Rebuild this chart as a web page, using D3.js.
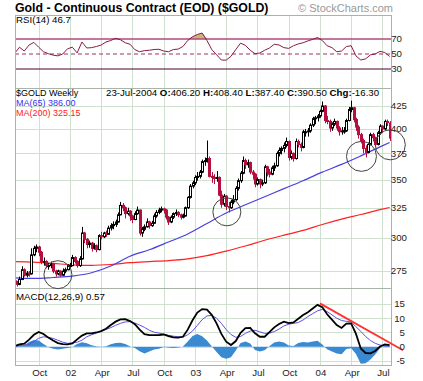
<!DOCTYPE html>
<html>
<head>
<meta charset="utf-8">
<script src="https://cdn.jsdelivr.net/npm/d3@7"></script>
<style>
body { margin: 0; background: #fff; }
text { font-family: Arial, "Liberation Sans", sans-serif; }
</style>
</head>
<body>
<svg id="chart" width="423" height="381"></svg>
<script>
// weekly bars from 27-Jul-2001 to 23-Jul-2004: [open, high, low, close]
const ohlc = [
    // 2001
    [268,269,264.5,266.5],[266.5,268,264,265.5],[265.5,271,265,269],[269,278.5,268.5,276],[276,277,271,272],
    [272,275,270.5,273.5],[273.5,275,271,273],[273,292,272.5,287],[287,294,286,292],[292,295,289,293],
    [293,294,286,289],[289,290,280,282],[282,285,279,282],[282,283,277,279],[279,281,276,279],
    [279,282,277,280],[280,281,273.5,275],[275,276,271,273],[273,276,272,275],[275,275.5,271,272],
    [272,277,271.5,275],[275,277.5,273.5,276],[276,280,275.5,279],
    // 2002
    [279,281,277.5,279],[279,287,278.5,285],[285,286,280.5,282],[282,283,277.5,279],[279,286,278,284],
    [284,309,283.5,304],[304,305,296,299],[299,300,292,295],[295,298,292.5,296],[296,297,289.5,292],
    [292,296,291,294],[294,295,289,291],[291,303,290.5,302],[302,305,299,301],[301,305,300,304],
    [304,306,301,303],[303,310,302.5,308],[308,312,306,310],[310,313.5,307,311],[311,315,309,313],
    [313,321,312.5,319],[319,330,318.5,327],[327,329,322,325],[325,326,316,320],[320,325,318.5,322],
    [322,323,314,318],[318,319,312,315],[315,322,314.5,320],[320,326,319,323],[323,323.5,302,304],
    [304,309,301,307],[307,311,305.5,309],[309,316,308.5,313],[313,314,307.5,310],[310,314,309,312],
    [312,320,311.5,318],[318,323,316.5,321],[321,325,319.5,323],[323,326,321,324],[324,325,320,323],
    [323,324,315,317],[317,318,310.5,313],[313,318.5,312,317],[317,321,315.5,320],[320,323.5,318,321],
    [321,322,317,319],[319,320,315,317],[317,320,316,318],[318,326,317.5,325],[325,335,324,334],
    [334,346,333,344],[344,349,342,347],
    // 2003
    [347,354,345,352],[352,357,349,353],[353,359,351,357],[357,369,356,367],[367,371,363,368],
    [368,388,366,370],[370,372,352,353],[353,357,347,352],[352,355,346,351],[351,358,348,352],
    [352,353,335,336],[336,340,325,328],[328,337,326,335],[335,336,323,326],[326,330,321,325],
    [325,332,324,330],[330,336,328,332],[332,344,331,342],[342,351,340,349],[349,358,347,356],
    [356,372,355,368],[368,370,360,364],[364,369,361,366],[366,367,355,357],[357,359,350,355],
    [355,356,343,346],[346,352,344.5,350],[350,351,342,346],[346,350,344,347],[347,364,346,362],
    [362,363,353,357],[357,360,352,355],[355,363,354,361],[361,366,358,363],[363,377,362,375],
    [375,381,372,378],[378,382,374,380],[380,386,376,383],[383,391,381,387],[387,388,368,371],
    [371,378,369,375],[375,376,367,370],[370,390,369,387],[387,389,381,384],[384,386,377,381],
    [381,399,380,397],[397,400,392,397],[397,401,392,398],[398,406,396,404],[404,413,402,411],
    [411,414,405,412],[412,416,408,414],
    // 2004
    [414,421,412,419],[419,430,418,425],[425,426,406,409],[409,414,405,408],[408,410,397,401],
    [401,407,398,405],[405,411,403,408],[408,409,398,401],[401,403,393,397],[397,402,394,398],
    [398,402,395,398],[398,411,397,409],[409,424,408,421],[421,431,418,423],[423,424,407,410],
    [410,412,398,402],[402,404,390,394],[394,396,385,388],[388,390,375,380],[380,383,371,376],
    [376,386,375,384],[384,396,383,394],[394,396,387,391],[391,392,382,384],[384,398,383,396],
    [396,405,394,403],[403,404,396,400],[400,410,399,408],[408,410,403,406.8],[406.2,408.4,387.4,390.5]
]

// indicators read every second week
const rsi14 = [51,59,54,62,65.5,59,53,50.5,48.5,47.5, 50,57,59,51.5,66,58,58.5,60,62,66,
    68,71,69,65,63,55.8,53,54.5,55,56, 56.3,54,53,56,56.5,60,68,73,76,78,
    68,56,49,42,41.8,47,56,64.5,61.5,55, 50.4,51.3,55,58,63,62,58.5,57.5,61,63.5,
    65,67.5,69.5,72,68,61,58.5,53,54,60, 61,47.5,42,43.5,48.8,50,53.5,52,46.7]
const macdLine = [0.2,0.8,1.1,2.5,4.2,5.2,4.5,3.2,2.2,1.3, 0.9,0.8,1.2,2.6,3.9,4.7,4.7,5.0,5.5,6.3,
    7.6,8.8,9.6,9.7,9.0,7.9,6,4.4,4.1,4.1, 4.1,4.3,3.7,3.3,3.2,3.5,6,9.3,12,13.2,
    13.0,11.2,8.2,4.5,1.8,0.6,2.0,4.9,6.5,6.6, 4.7,3.5,3.5,5.1,6.8,8.0,8.8,8.3,8.5,9.8,
    11.1,12.1,13.4,14.7,13.9,11.4,9.5,7.6,6.6,8.1, 8.2,4.5,-0.6,-2.2,-2.3,-1.5,0.1,0.8,0.57]
const macdSignal = [0.2,0.4,0.6,0.8,1.8,3.0,3.5,3.3,2.9,2.3, 1.6,1.2,1.3,1.6,2.3,3.5,4.2,4.8,5.4,6.1,
    6.7,7.5,8.2,8.7,8.8,8.3,7.6,6.8,5.8,5.1, 4.8,4.4,4.0,3.7,3.5,3.4,4.2,5.5,7.5,9.5,
    10.8,11.0,10.0,8.2,6.0,4.3,3.3,3.6,4.7,5.5, 5.8,5.2,4.7,4.8,5.3,6.2,7.3,7.9,8.2,8.5,
    9.4,10.6,11.6,12.6,13.1,12.3,11.2,10.0,9.2,8.9, 8.7,7.0,5.4,3.6,2.2,1.2,0.6,0.3,0.2]

// moving averages read every eighth week, plus the last week
const ma65 = [270.1,269.7,270.4,271.4,273.8,278.7,286,290.9,296.9,303.2,311.8,320.5,327.5,334.5,341.8,349,357,364.3,372.6,381.5,386]
const ma200 = [281.9,281.5,280.6,279.6,279.2,279.8,281.2,282,282.7,284,286.4,289.9,293.8,298.3,302.3,306.1,310.9,315.3,319.2,323.3,325.15]

const priceTicks = [275, 300, 325, 350, 375, 400, 425]
const rsiTicks = [30, 50, 70]
const macdTicks = [-5, 0, 5, 10, 15]
const quarterLabels = ["Oct","02","Apr","Jul","Oct","03","Apr","Jul","Oct","04","Apr","Jul"]

// annotations drawn on the chart: circles [date, price, radius] and the MACD trendline
const circles = [[new Date(2001,10,30), 272.4, 14], [new Date(2003,3,6), 321.5, 14],
                 [new Date(2004,4,2), 372.1, 15], [new Date(2004,6,25), 383.6, 15]]
const trendline = [[new Date(2004,0,2), 15.2], [new Date(2004,7,31), -1.2]]

const left = 15, right = 391
const rsiBox = [15, 88], priceBox = [88, 288], macdBox = [288, 365]
const gridColor = "#cfe0cf"
const font = "9.7px"

const svg = d3.select("#chart")

// build bar objects
const dates = d3.timeFriday.range(new Date(2001,6,27), new Date(2004,6,24))
const bars = dates.map((d, i) => ({
    date: d, o: ohlc[i][0], h: ohlc[i][1], l: ohlc[i][2], c: ohlc[i][3],
    prev: i ? ohlc[i-1][3] : ohlc[i][0]
}))
const ind = rsi14.map((v, i) => ({date: dates[i*2], rsi: v, macd: macdLine[i], signal: macdSignal[i]}))
const maIdx = d3.range(0, 153, 8).concat([156])
const maPts = maIdx.map((k, i) => ({date: dates[k], ma65: ma65[i], ma200: ma200[i]}))

// scales
const x = d3.scaleTime().domain([new Date(2001,6,28), new Date(2004,6,27)]).range([left, right])
const yRsi = d3.scaleLinear().domain([0, 100]).range([91.5, 16.5])
const yPrice = d3.scaleLog().domain([263, 445.6]).range([priceBox[1], priceBox[0]])
const yMacd = d3.scaleLinear().domain([-6.4, 20.6]).range([macdBox[1], macdBox[0]])

// quarter gridlines at the first bar of Jan/Apr/Jul/Oct
const quarters = bars.filter((b, i) => i > 0 && b.date.getMonth() % 3 === 0 && b.date.getMonth() !== bars[i-1].date.getMonth())

// panel clips and vertical grid
const defs = svg.append("defs")
;[["rsi", rsiBox], ["price", priceBox], ["macd", macdBox]].forEach(([name, box]) => {
    defs.append("clipPath").attr("id", "clip-" + name)
        .append("rect").attr("x", left).attr("y", box[0]).attr("width", right - left).attr("height", box[1] - box[0])
    svg.append("g").attr("class", "vgrid")
        .selectAll("line").data(quarters).join("line")
        .attr("x1", d => Math.round(x(d.date)) + 0.5).attr("x2", d => Math.round(x(d.date)) + 0.5)
        .attr("y1", box[0]).attr("y2", box[1])
        .attr("stroke", gridColor)
})

// ---- RSI panel ----
const gR = svg.append("g").attr("clip-path", "url(#clip-rsi)")
gR.append("path").datum(ind)
    .attr("fill", "#c8b67e")
    .attr("d", d3.area().x(d => x(d.date)).y0(yRsi(70)).y1(d => yRsi(Math.max(d.rsi, 70))))
gR.append("line").attr("x1", left).attr("x2", right).attr("y1", yRsi(70)).attr("y2", yRsi(70))
    .attr("stroke", "#b3477a").attr("stroke-width", 1.5)
gR.append("line").attr("x1", left).attr("x2", right).attr("y1", yRsi(50)).attr("y2", yRsi(50))
    .attr("stroke", "#993366").attr("stroke-dasharray", "4,3")
gR.append("line").attr("x1", left).attr("x2", right).attr("y1", yRsi(30)).attr("y2", yRsi(30))
    .attr("stroke", "#4d0033").attr("stroke-width", 1.2)
gR.append("path").datum(ind)
    .attr("fill", "none").attr("stroke", "#8b1a48").attr("stroke-width", 1)
    .attr("d", d3.line().x(d => x(d.date)).y(d => yRsi(d.rsi)))

// ---- price panel ----
svg.append("g").selectAll("line").data(priceTicks).join("line")
    .attr("x1", left).attr("x2", right)
    .attr("y1", d => Math.round(yPrice(d)) + 0.5).attr("y2", d => Math.round(yPrice(d)) + 0.5)
    .attr("stroke", gridColor)

const gP = svg.append("g").attr("clip-path", "url(#clip-price)")
gP.append("path").datum(maPts)
    .attr("fill", "none").attr("stroke", "#ff2222").attr("stroke-width", 1.2)
    .attr("d", d3.line().x(d => x(d.date)).y(d => yPrice(d.ma200)).curve(d3.curveMonotoneX))
gP.append("path").datum(maPts)
    .attr("fill", "none").attr("stroke", "#4a3fe0").attr("stroke-width", 1.2)
    .attr("d", d3.line().x(d => x(d.date)).y(d => yPrice(d.ma65)).curve(d3.curveMonotoneX))

const candle = gP.append("g").selectAll("g").data(bars).join("g")
const col = d => d.c >= d.prev ? "#000" : "#b3103f"
candle.append("line")
    .attr("x1", d => Math.round(x(d.date)) + 0.5).attr("x2", d => Math.round(x(d.date)) + 0.5)
    .attr("y1", d => yPrice(d.h)).attr("y2", d => yPrice(d.l))
    .attr("stroke", col)
candle.append("rect")
    .attr("x", d => Math.round(x(d.date)) - 0.5).attr("width", 2)
    .attr("y", d => yPrice(Math.max(d.o, d.c))).attr("height", d => Math.max(1, yPrice(Math.min(d.o, d.c)) - yPrice(Math.max(d.o, d.c))))
    .attr("fill", d => d.c > d.o ? "#fff" : col(d))
    .attr("stroke", col).attr("stroke-width", 1)

// ---- MACD panel ----
svg.append("g").selectAll("line").data(macdTicks).join("line")
    .attr("x1", left).attr("x2", right)
    .attr("y1", d => Math.round(yMacd(d)) + 0.5).attr("y2", d => Math.round(yMacd(d)) + 0.5)
    .attr("stroke", gridColor)
const gM = svg.append("g").attr("clip-path", "url(#clip-macd)")
gM.append("path").datum(ind)
    .attr("fill", "#3a8ad2")
    .attr("d", d3.area().x(d => x(d.date)).y0(yMacd(0)).y1(d => yMacd(d.macd - d.signal)))
gM.append("path").datum(ind)
    .attr("fill", "none").attr("stroke", "#6050e0").attr("stroke-width", 1)
    .attr("d", d3.line().x(d => x(d.date)).y(d => yMacd(d.signal)))
gM.append("path").datum(ind)
    .attr("fill", "none").attr("stroke", "#000").attr("stroke-width", 1.8)
    .attr("d", d3.line().x(d => x(d.date)).y(d => yMacd(d.macd)))

// panel frames
;[rsiBox, priceBox, macdBox].forEach(box => {
    svg.append("rect").attr("x", left + 0.5).attr("y", box[0] + 0.5)
        .attr("width", right - left).attr("height", box[1] - box[0])
        .attr("fill", "none").attr("stroke", "#a8b4a8")
})

// annotations
svg.append("g").selectAll("circle").data(circles).join("circle")
    .attr("cx", d => x(d[0])).attr("cy", d => yPrice(d[1])).attr("r", d => d[2])
    .attr("fill", "none").attr("stroke", "#444").attr("stroke-width", 1)
svg.append("line")
    .attr("x1", x(trendline[0][0])).attr("y1", yMacd(trendline[0][1]))
    .attr("x2", x(trendline[1][0])).attr("y2", yMacd(trendline[1][1]))
    .attr("stroke", "#ff3030").attr("stroke-width", 1.8)

// right axis labels
const axisText = (ticks, scale, xEnd) => svg.append("g").selectAll("text").data(ticks).join("text")
    .attr("x", xEnd).attr("y", d => scale(d)).attr("dy", "0.35em")
    .attr("text-anchor", "end").style("font-size", font).attr("fill", "#222")
    .text(d => d)
axisText(rsiTicks, yRsi, 402)
axisText(priceTicks, yPrice, 407)
axisText(macdTicks, yMacd, 405)

// bottom axis labels
svg.append("g").selectAll("text").data(quarters).join("text")
    .attr("x", (d, i) => x(d.date) + 1).attr("y", 376)
    .attr("text-anchor", "middle").style("font-size", font).attr("fill", "#222")
    .text((d, i) => quarterLabels[i])

// titles and legends
svg.append("text").attr("x", 15).attr("y", 12).style("font-size", "12.3px").style("font-weight", "bold")
    .text("Gold - Continuous Contract (EOD) ($GOLD)")
svg.append("text").attr("x", 393).attr("y", 12).attr("text-anchor", "end").style("font-size", "11px")
    .attr("fill", "#999").text("\u00a9 StockCharts.com")

svg.append("text").attr("x", 16).attr("y", 23).style("font-size", font)
    .text("RSI(14) " + rsi14[rsi14.length - 1])
svg.append("text").attr("x", 16).attr("y", 300).style("font-size", font)
    .text("MACD(12,26,9) " + macdLine[macdLine.length - 1])
svg.append("text").attr("x", 16).attr("y", 95.5).style("font-size", "9px").text("$GOLD Weekly")
svg.append("text").attr("x", 16).attr("y", 105.5).style("font-size", "9px").attr("fill", "#3333ee")
    .text("MA(65) " + ma65[ma65.length - 1].toFixed(2))
svg.append("text").attr("x", 16).attr("y", 115.5).style("font-size", "9px").attr("fill", "#ff2222")
    .text("MA(200) " + ma200[ma200.length - 1].toFixed(2))

// last bar summary line
const last = bars[bars.length - 1]
const info = svg.append("text").attr("x", 106).attr("y", 95.5).style("font-size", font)
const parts = [[d3.timeFormat("%d-%b-%Y")(last.date) + " ", false], ["O:", true], [last.o.toFixed(2) + " ", false],
    ["H:", true], [last.h.toFixed(2) + " ", false], ["L:", true], [last.l.toFixed(2) + " ", false],
    ["C:", true], [last.c.toFixed(2) + " ", false], ["Chg:", true], [(last.c - last.prev).toFixed(2), false]]
parts.forEach(([t, b]) => info.append("tspan").style("font-weight", b ? "bold" : "normal").text(t))
</script>
</body>
</html>
